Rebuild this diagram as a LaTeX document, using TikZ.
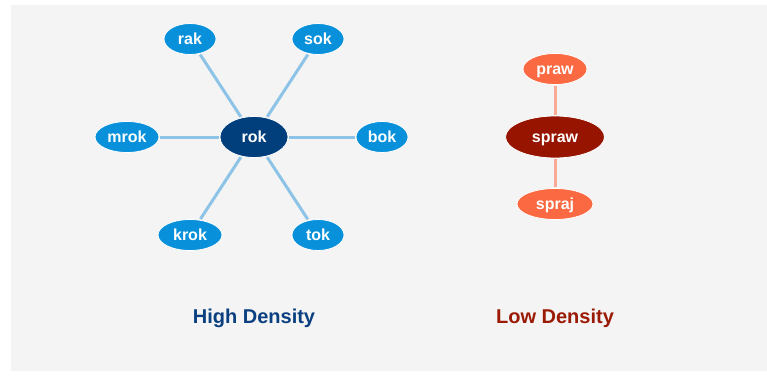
\documentclass[tikz,border=0pt]{standalone}
\usepackage{fontspec}
\setmainfont{Liberation Sans}
\usetikzlibrary{shapes.geometric}
\definecolor{bgc}{HTML}{F4F4F4}
\definecolor{lblue}{HTML}{0891DA}
\definecolor{dblue}{HTML}{003E7C}
\definecolor{dred}{HTML}{961400}
\definecolor{orng}{HTML}{FA6941}
\definecolor{bedge}{HTML}{8CC3E6}
\definecolor{oedge}{HTML}{F9AA96}
\definecolor{htext}{HTML}{0A3F80}
\definecolor{ltext}{HTML}{9B1A05}
\tikzset{
  wnode/.style={ellipse, draw=white, line width=0.8pt, inner sep=0pt, text=white,
    font=\fontsize{16}{18}\selectfont\bfseries, minimum height=31pt,
    text height=11.5pt, text depth=0pt},
  leafb/.style={wnode, fill=lblue},
  hubb/.style={wnode, fill=dblue, minimum height=41pt, minimum width=68pt},
  leafo/.style={wnode, fill=orng},
  hubo/.style={wnode, fill=dred, minimum height=42pt, minimum width=99pt},
  bline/.style={draw=bedge, line width=3pt, shorten <=1pt, shorten >=1pt},
  oline/.style={draw=oedge, line width=3pt, shorten <=1pt, shorten >=1pt},
  title/.style={font=\fontsize{20}{22}\selectfont\bfseries}
}
\begin{document}
\begin{tikzpicture}[x=1pt,y=-1pt]
\useasboundingbox (0,0) rectangle (767,377);
\fill[bgc] (11,5) rectangle (767,371);
% high density
\node[hubb] (rok) at (254,137) {rok};
\node[leafb, minimum width=52pt] (rak) at (190,39) {rak};
\node[leafb, minimum width=52pt] (sok) at (318,39) {sok};
\node[leafb, minimum width=64pt] (mrok) at (127,137) {mrok};
\node[leafb, minimum width=52pt] (bok) at (382,137) {bok};
\node[leafb, minimum width=64pt] (krok) at (190,235) {krok};
\node[leafb, minimum width=52pt] (tok) at (318,235) {tok};
\foreach \n in {rak,sok,mrok,bok,krok,tok} \draw[bline] (rok) -- (\n);
% low density
\node[hubo] (spraw) at (555,137) {spraw};
\node[leafo, minimum width=64pt] (praw) at (555,69) {praw};
\node[leafo, minimum width=76pt] (spraj) at (555,204) {spraj};
\draw[oline] (spraw) -- (praw);
\draw[oline] (spraw) -- (spraj);
% titles
\node[title, text=htext] (hd) at (254,318) {High Density};
\node[title, text=ltext] (ld) at (555,318) {Low Density};
\end{tikzpicture}
\end{document}
